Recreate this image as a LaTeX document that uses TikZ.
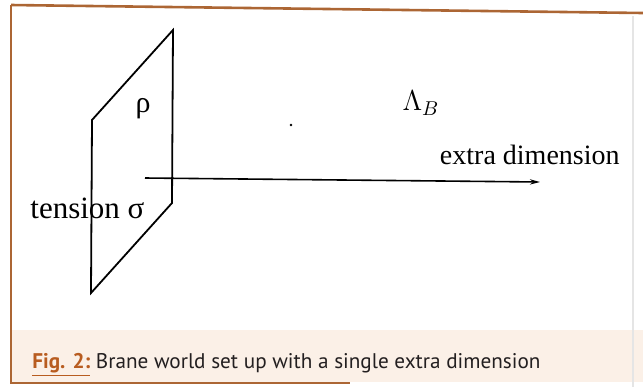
\documentclass[tikz,border=0pt]{standalone}
\usepackage{fontspec}
\setmainfont{Liberation Serif}
\setsansfont{PT Sans}
\usepackage{tikz}
\usetikzlibrary{positioning, arrows.meta}
\definecolor{framebrown}{RGB}{172,102,52}
\definecolor{capbg}{RGB}{251,240,231}
\definecolor{figorange}{RGB}{184,92,32}
\definecolor{captext}{RGB}{35,31,32}

\begin{document}
\begin{tikzpicture}[
    x=0.5pt, y=-0.5pt,
    tag/.style={inner sep=0pt, font=\fontsize{14}{16}\selectfont},
    brane/.style={draw, line width=0.9pt},
    axis/.style={draw, line width=0.8pt, -{Stealth[length=5pt, width=2.6pt]}},
    frameline/.style={draw=framebrown, line width=1.3pt}
]
\useasboundingbox (0,0) rectangle (643,387);

% caption strip and frame
\fill[capbg] (11,330) rectangle (643,382);
\draw[frameline] (11,5) -- (643,13);
\draw[frameline] (11,5) -- (11,384);
\draw[frameline] (11,383) -- (350,383);
\draw[gray!20, line width=0.6pt] (633,16) -- (633,387);

% the brane
\coordinate (tl) at (92,120);
\coordinate (tr) at (173,30);
\coordinate (br) at (172,203);
\coordinate (bl) at (91,293);

\node[tag, anchor=base west, font=\fontsize{15.5}{18}\selectfont] (tension) at (30,218) {tension σ};
\node[tag, font=\fontsize{15}{17}\selectfont] (rho) at (143,109) {ρ};

\draw[brane] (tl) -- (tr) -- (br) -- (bl) -- cycle;

% bulk
\node[tag, font=\fontsize{14.5}{16}\selectfont] (bulk) at (421,103) {$\Lambda_B$};
\fill (291,125) circle (0.7pt);

\coordinate (origin) at (145,178);
\coordinate (far) at (540,182);
\draw[axis] (origin) -- (far);
\node[tag, anchor=base east] (extra) at (620,164) {extra dimension};

% caption
\node[anchor=base west, inner sep=0pt, font=\sffamily\fontsize{10.6}{13}\selectfont, text=captext] (caption) at (32,368)
    {\textcolor{figorange}{\textbf{\underline{Fig. 2:}}} Brane world set up with a single extra dimension};
\end{tikzpicture}
\end{document}
